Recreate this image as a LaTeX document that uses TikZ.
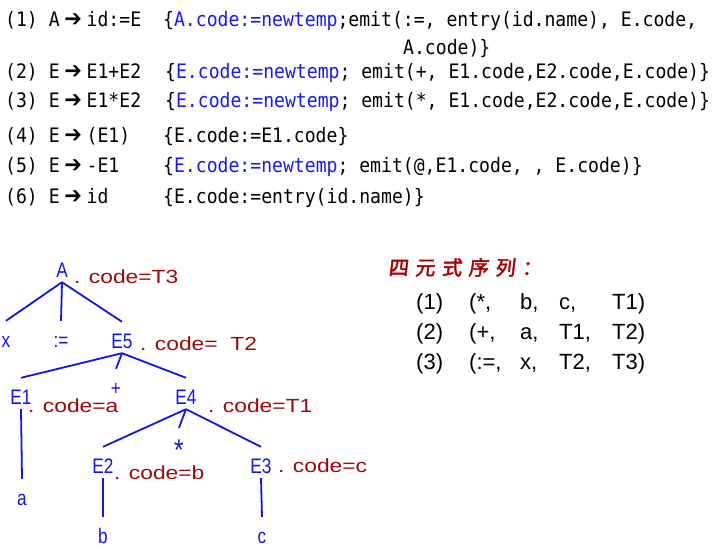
\documentclass[tikz,border=0pt]{standalone}
\usepackage{fontspec}
\usepackage{graphicx}
\setmainfont{Liberation Sans}
\newfontfamily\mono{DejaVu Sans Mono}
\newfontfamily\djs{DejaVu Sans}
\newfontfamily\cjkt[FakeSlant=0.12,FakeBold=2.2]{Noto Sans CJK SC}
\definecolor{codeblue}{RGB}{25,25,240}
\definecolor{treeblue}{RGB}{20,20,230}
\definecolor{annred}{RGB}{155,10,10}
\definecolor{quadred}{RGB}{170,0,0}
\newcommand{\arr}{\makebox[27pt]{\djs\fontsize{21}{21}\selectfont ➔}}
\newcommand{\bl}[1]{\textcolor{codeblue}{#1}}
\newcommand{\cd}[1]{\scalebox{1}[1.1]{#1}}
\newcommand{\lbx}[1]{\scalebox{0.82}[1]{#1}}
\newcommand{\anx}[1]{\scalebox{1.2}[1]{#1}}
\newcommand{\qc}[1]{\makebox[26.7pt][l]{#1}}
\begin{document}
\begin{tikzpicture}[x=1pt,y=-1pt,
  code/.style={anchor=base west, inner sep=0pt, font=\mono\fontsize{18.1}{20}\selectfont},
  lbl/.style={anchor=base, inner sep=1pt, text height=25pt, text depth=4pt, text=treeblue, font=\fontsize{21}{21}\selectfont},
  ann/.style={anchor=base west, inner sep=0pt, text=annred, font=\fontsize{19}{19}\selectfont},
  edge/.style={draw=treeblue, line width=1.8pt},
  quad/.style={anchor=base west, inner sep=0pt, font=\fontsize{22}{22}\selectfont}]
\useasboundingbox (0,0) rectangle (722,548);
\fill[white] (0,0) rectangle (722,548);

% ---- productions ----
\node[code] (p1) at (5,27)  {\cd{(1) A\arr id:=E}};
\node[code] (p2) at (5,79)  {\cd{(2) E\arr E1+E2}};
\node[code] (p3) at (5,108) {\cd{(3) E\arr E1*E2}};
\node[code] (p4) at (5,143) {\cd{(4) E\arr (E1)}};
\node[code] (p5) at (5,172) {\cd{(5) E\arr -E1}};
\node[code] (p6) at (5,204) {\cd{(6) E\arr id}};

\node[code] (s1)  at (163,27)  {\cd{\{\bl{A.code:=newtemp};emit(:=, entry(id.name), E.code,}};
\node[code] (s1b) at (403,55)  {\cd{A.code)\}}};
\node[code] (s2)  at (165,79)  {\cd{\{\bl{E.code:=newtemp}; emit(+, E1.code,E2.code,E.code)\}}};
\node[code] (s3)  at (165,108) {\cd{\{\bl{E.code:=newtemp}; emit(*, E1.code,E2.code,E.code)\}}};
\node[code] (s4)  at (163,143) {\cd{\{E.code:=E1.code\}}};
\node[code] (s5)  at (163,172) {\cd{\{\bl{E.code:=newtemp}; emit(@,E1.code, , E.code)\}}};
\node[code] (s6)  at (163,204) {\cd{\{E.code:=entry(id.name)\}}};

% ---- tree ----
\node[lbl] (A)  at (62,277)  {\lbx{A}};
\node[lbl] (x)  at (6,347)   {\lbx{x}};
\node[lbl] (as) at (61,347)  {\lbx{:=}};
\node[lbl] (E5) at (122,348) {\lbx{E5}};
\node[lbl] (E1) at (21,404)  {\lbx{E1}};
\node[lbl, text depth=0pt, inner sep=0pt, text height=26pt] (pl) at (116,395) {\lbx{+}};
\node[lbl] (E4) at (186,404) {\lbx{E4}};
\node[lbl] (a)  at (22,505)  {\lbx{a}};
\node[lbl] (E2) at (103,473) {\lbx{E2}};
\node[lbl, font=\fontsize{30}{30}\selectfont, text height=32pt, text depth=0pt, inner sep=0pt] (st) at (179,460) {\lbx{*}};
\node[lbl] (E3) at (261,473) {\lbx{E3}};
\node[lbl] (b)  at (103,543) {\lbx{b}};
\node[lbl] (c)  at (262,543) {\lbx{c}};

\node[ann] (aA)  at (74,283)  {\anx{. code=T3}};
\node[ann] (aE5) at (140,350) {\anx{. code=\ \ T2}};
\node[ann] (aE1) at (28,412)  {\anx{. code=a}};
\node[ann] (aE4) at (208,412) {\anx{. code=T1}};
\node[ann] (aE2) at (114,479) {\anx{. code=b}};
\node[ann] (aE3) at (278,472) {\anx{. code=c}};

\draw[edge] (A.south) -- (x.north);
\draw[edge] (A.south) -- (as.north);
\draw[edge] (A.south) -- (E5.north);
\draw[edge] (E5.south) -- (E1.north);
\draw[edge] (E5.south) -- (pl.north);
\draw[edge] (E5.south) -- (E4.north);
\draw[edge] (E1.south) -- (a.north);
\draw[edge] (E4.south) -- (E2.north);
\draw[edge] (E4.south) -- (st.north);
\draw[edge] (E4.south) -- (E3.north);
\draw[edge] (E2.south) -- (b.north);
\draw[edge] (E3.south) -- (c.north);

% ---- quadruples ----
\node[anchor=base west, inner sep=0pt, text=quadred, font=\cjkt\fontsize{20}{20}\selectfont] (qt) at (388,275)
  {\qc{四}\qc{元}\qc{式}\qc{序}\qc{列}：};

\node[quad] (q11) at (416,309) {(1)};
\node[quad] (q12) at (469,309) {(*,};
\node[quad] (q13) at (520,309) {b,};
\node[quad] (q14) at (559,309) {c,};
\node[quad] (q15) at (612,309) {T1)};

\node[quad] (q21) at (416,339) {(2)};
\node[quad] (q22) at (469,339) {(+,};
\node[quad] (q23) at (520,339) {a,};
\node[quad] (q24) at (559,339) {T1,};
\node[quad] (q25) at (612,339) {T2)};

\node[quad] (q31) at (416,369) {(3)};
\node[quad] (q32) at (469,369) {(:=,};
\node[quad] (q33) at (520,369) {x,};
\node[quad] (q34) at (559,369) {T2,};
\node[quad] (q35) at (612,369) {T3)};
\end{tikzpicture}
\end{document}
